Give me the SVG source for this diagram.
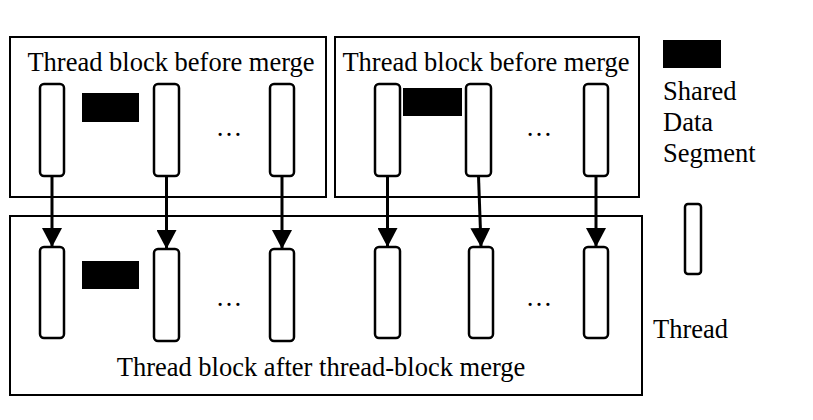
<svg xmlns="http://www.w3.org/2000/svg" width="813" height="420" viewBox="0 0 813 420">
<defs>
<style>
.blk{fill:none;stroke:#000;stroke-width:2}
.thr{fill:#fff;stroke:#000;stroke-width:2.5}
.seg{fill:#000}
.t{font-family:"Liberation Serif","Times New Roman",serif;font-size:26.5px;fill:#000}
.c{stroke:#000;stroke-width:3;fill:none}
</style>
<marker id="ah" markerUnits="userSpaceOnUse" markerWidth="20" markerHeight="20" viewBox="0 0 20 20" refX="18" refY="10" orient="auto">
<path d="M0,0 L19,10 L0,20 Z" fill="#000"/>
</marker>
</defs>
<rect width="813" height="420" fill="#fff"/>
<g id="block-before-1">
<rect class="blk" x="10" y="37" width="316" height="160"/>
<text class="t" x="171" y="71" text-anchor="middle">Thread block before merge</text>
<rect class="thr" x="40" y="84" width="24" height="92" rx="4"/>
<rect class="seg" x="82" y="93" width="57" height="29"/>
<rect class="thr" x="154" y="84" width="25" height="92" rx="4"/>
<text class="t" x="229" y="136" text-anchor="middle">…</text>
<rect class="thr" x="270" y="84" width="24" height="92" rx="4"/>
</g>
<g id="block-before-2">
<rect class="blk" x="335" y="37" width="304" height="160"/>
<text class="t" x="486" y="71" text-anchor="middle">Thread block before merge</text>
<rect class="thr" x="375" y="84" width="25" height="92" rx="4"/>
<rect class="seg" x="403" y="88" width="59" height="28"/>
<rect class="thr" x="466" y="84" width="25" height="92" rx="4"/>
<text class="t" x="539" y="136" text-anchor="middle">…</text>
<rect class="thr" x="584" y="84" width="24" height="92" rx="4"/>
</g>
<g id="block-after">
<rect class="blk" x="10" y="216" width="632" height="179"/>
<rect class="thr" x="40" y="247" width="24" height="91" rx="4"/>
<rect class="seg" x="82" y="261" width="57" height="28"/>
<rect class="thr" x="154" y="249" width="25" height="92" rx="4"/>
<text class="t" x="229" y="306" text-anchor="middle">…</text>
<rect class="thr" x="270" y="249" width="24" height="92" rx="4"/>
<rect class="thr" x="375" y="247" width="25" height="91" rx="4"/>
<rect class="thr" x="469" y="247" width="24" height="91" rx="4"/>
<text class="t" x="539" y="306" text-anchor="middle">…</text>
<rect class="thr" x="584" y="247" width="24" height="91" rx="4"/>
<text class="t" x="321" y="376" text-anchor="middle">Thread block after thread-block merge</text>
</g>
<g id="legend-segment">
<rect class="seg" x="663" y="40" width="58" height="28"/>
<text class="t" x="663" y="100">Shared</text>
<text class="t" x="663" y="131">Data</text>
<text class="t" x="663" y="162">Segment</text>
</g>
<g id="legend-thread">
<rect class="thr" x="685" y="204" width="16" height="70" rx="3"/>
<text class="t" x="653" y="338">Thread</text>
</g>
<g id="connectors">
<line class="c" x1="52" y1="176" x2="52" y2="246" marker-end="url(#ah)"/>
<line class="c" x1="166.5" y1="176" x2="166.5" y2="248" marker-end="url(#ah)"/>
<line class="c" x1="282" y1="176" x2="282" y2="248" marker-end="url(#ah)"/>
<line class="c" x1="387.5" y1="176" x2="387.5" y2="246" marker-end="url(#ah)"/>
<line class="c" x1="478.5" y1="176" x2="481" y2="246" marker-end="url(#ah)"/>
<line class="c" x1="596" y1="176" x2="596" y2="246" marker-end="url(#ah)"/>
</g>
</svg>
